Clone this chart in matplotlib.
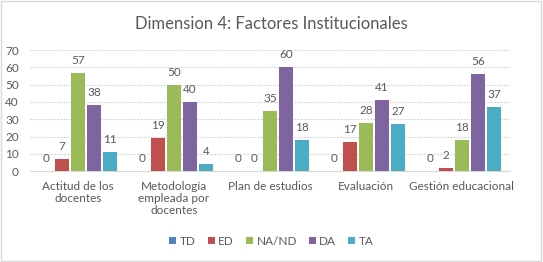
import matplotlib.pyplot as plt
import numpy as np
from matplotlib.patches import Rectangle

categories = ["Actitud de los\ndocentes", "Metodología\nempleada por\ndocentes",
              "Plan de estudios", "Evaluación", "Gestión educacional"]
series = ["TD", "ED", "NA/ND", "DA", "TA"]
td = [0, 0, 0, 0, 0]
ed = [7, 19, 0, 17, 2]
na_nd = [57, 50, 35, 28, 18]
da = [38, 40, 60, 41, 56]
ta = [11, 4, 18, 27, 37]
values = [td, ed, na_nd, da, ta]
colors = ["#4F81BD", "#C0504D", "#9BBB59", "#8064A2", "#4BACC6"]

txt = "#595959"
plt.rcParams['font.family'] = ['Lato', 'DejaVu Sans']

fig = plt.figure(figsize=(5.43, 2.62), dpi=100)
ax = fig.add_axes([0.055, 0.347, 0.884, 0.462])

x = np.arange(len(categories))
step = 1 / 6
width = 0.146
for i, (name, vals, c) in enumerate(zip(series, values, colors)):
    pos = x + (i - 2) * step
    bars = ax.bar(pos, vals, width, color=c, label=name, zorder=3)
    for b, v in zip(bars, vals):
        ax.text(b.get_x() + b.get_width() / 2, v + 4, str(v), ha="center",
                va="bottom", fontsize=8.5, color=txt)

ax.set_xlim(-0.5, 4.5)
ax.set_ylim(0, 70)
ax.set_yticks(range(0, 71, 10))
ax.set_xticks(x)
ax.set_xticklabels(categories, fontsize=8.5, color=txt, linespacing=1.1)
ax.tick_params(axis="y", labelsize=8.5, colors=txt, length=0, pad=8)
ax.tick_params(axis="x", length=0, pad=7)
ax.grid(axis="y", color="#D9D9D9", linestyle=(0, (2, 1)), linewidth=0.8, zorder=0)
for s in ["top", "right", "left"]:
    ax.spines[s].set_visible(False)
ax.spines["bottom"].set_color("#D9D9D9")

fig.text(0.5, 0.91, "Dimension 4: Factores Institucionales", ha="center",
         va="center", fontsize=12, color=txt)

fig.legend(loc="center", bbox_to_anchor=(0.5, 0.08), ncol=5, frameon=False,
           fontsize=8.5, handlelength=0.6, handleheight=0.6, handletextpad=0.3,
           columnspacing=1.0, labelcolor=txt)

fig.patches.append(Rectangle((0.001, 0.002), 0.996, 0.994, transform=fig.transFigure,
                             fill=False, edgecolor="#D9D9D9", linewidth=1))

fig.savefig("out.png", dpi=100)
